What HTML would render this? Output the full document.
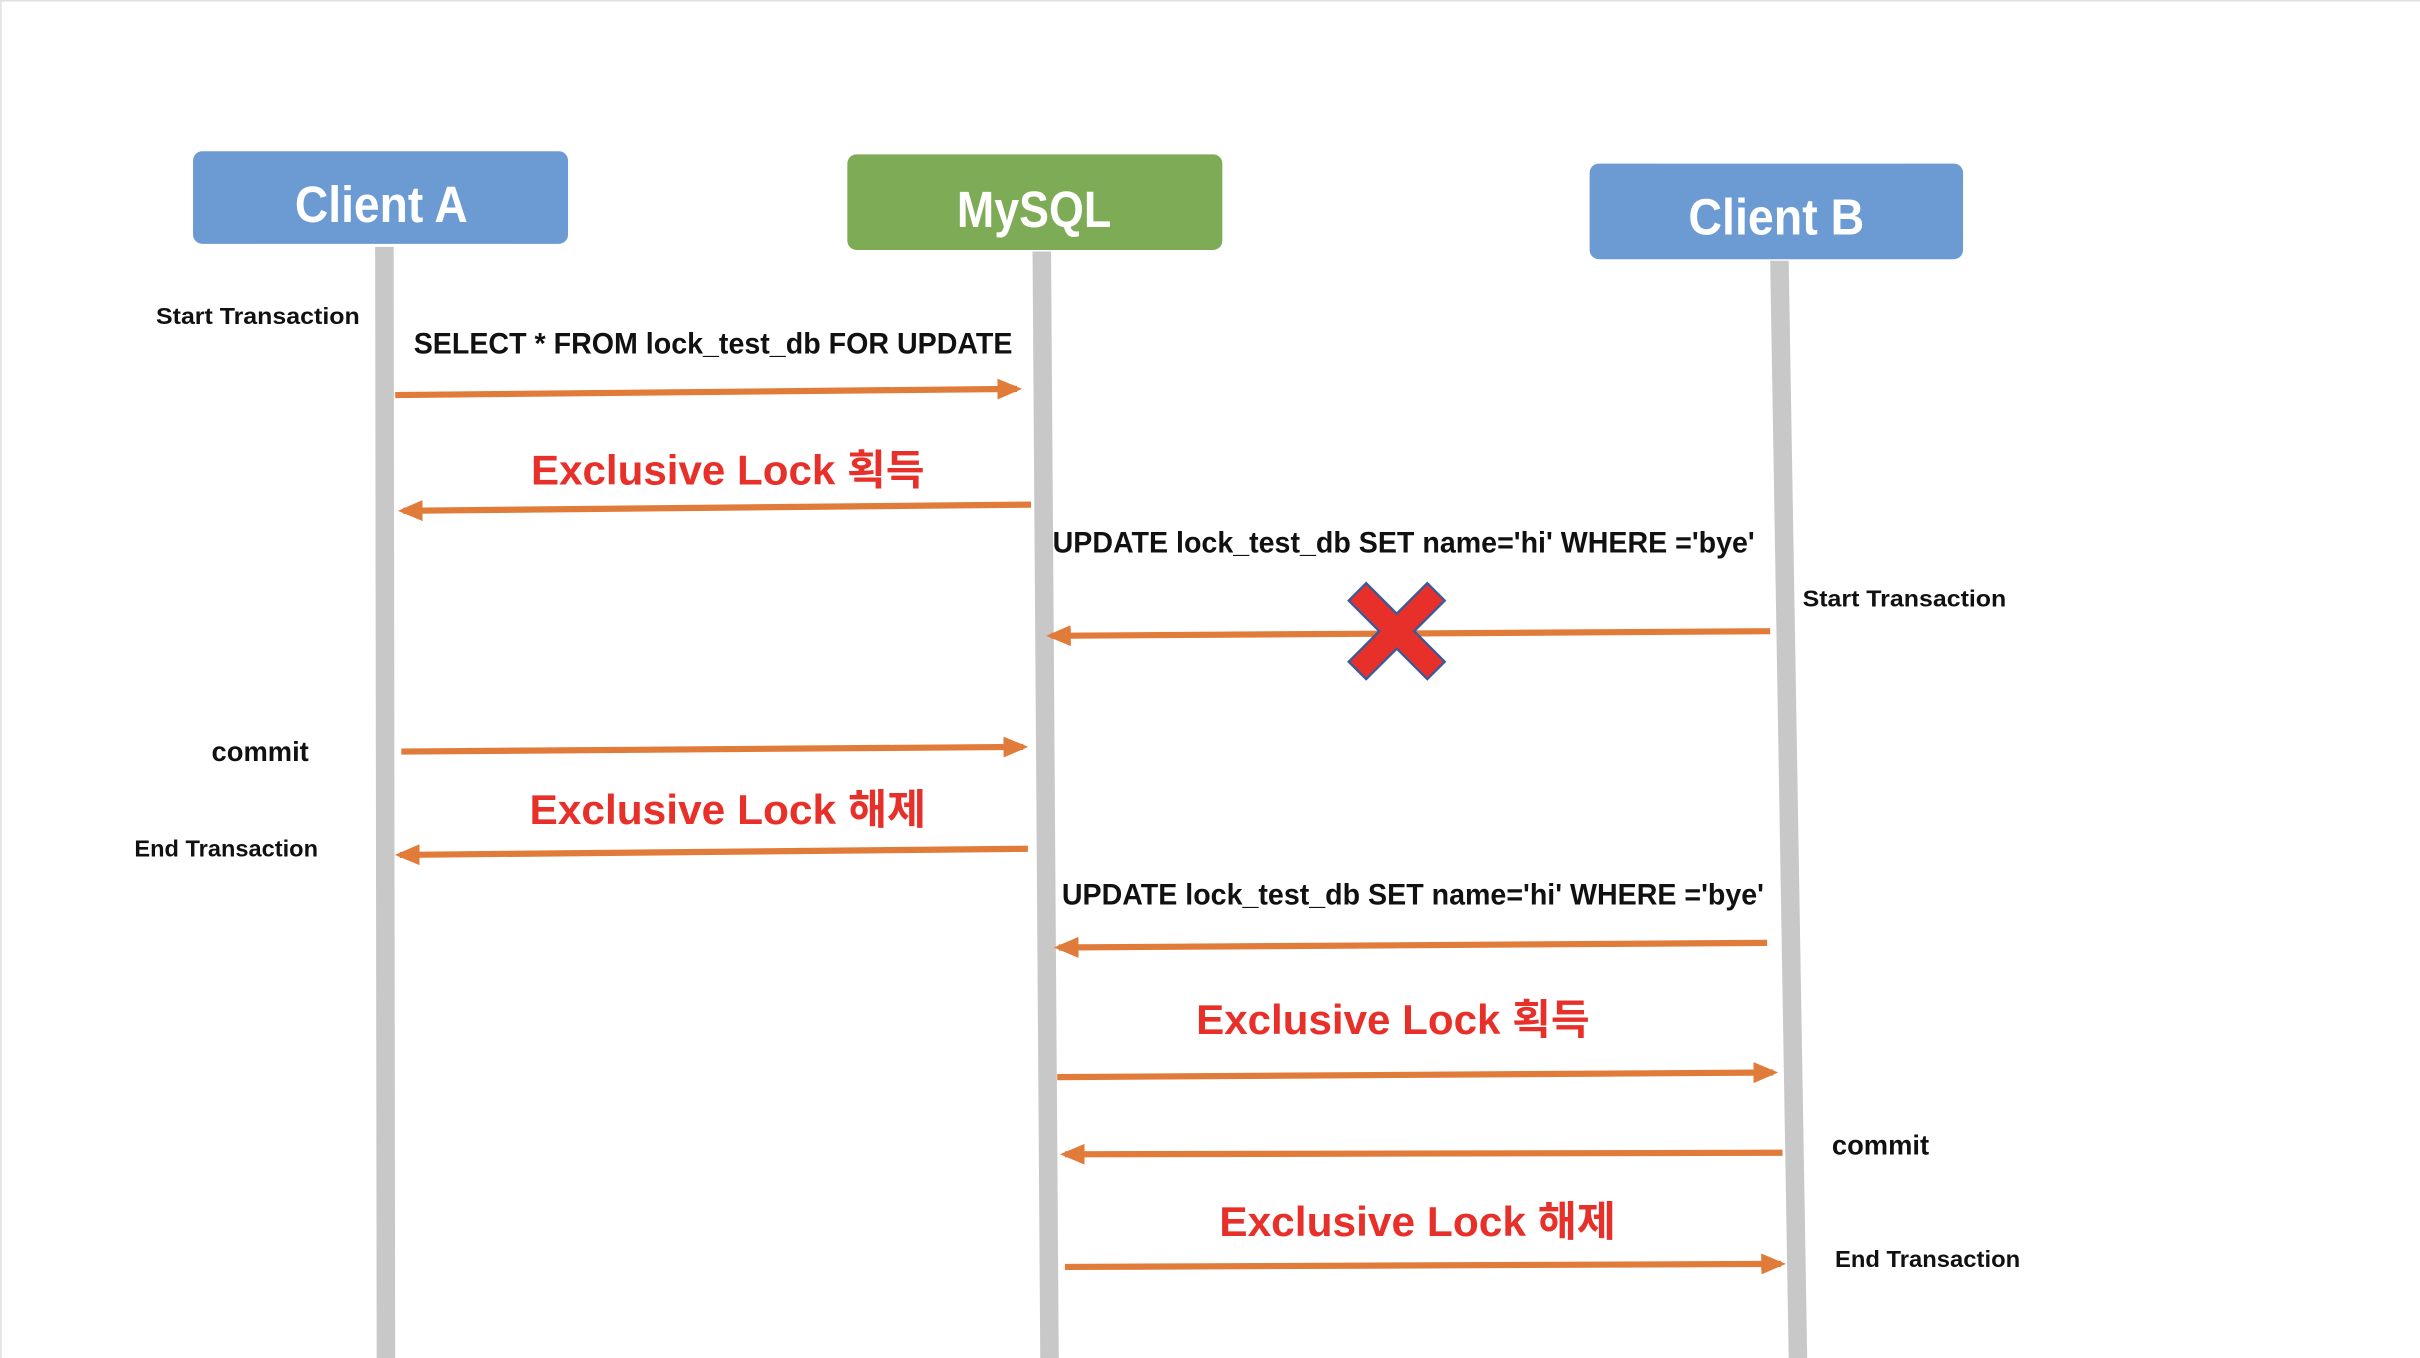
<!DOCTYPE html>
<html><head><meta charset="utf-8"><style>
html,body{margin:0;padding:0;background:#fff;}
svg{display:block;}
text{font-family:"Liberation Sans","Noto Sans CJK KR",sans-serif;font-weight:bold;}
</style></head><body>
<svg width="2420" height="1358" viewBox="0 0 1568 880" xmlns="http://www.w3.org/2000/svg">
<defs>
<marker id="ah" markerWidth="4" markerHeight="4" refX="3.2" refY="2" orient="auto" markerUnits="strokeWidth">
<path d="M0,0.3 L4,2 L0,3.7 Z" fill="#e07b39"/>
</marker>
</defs>
<rect x="0" y="0" width="1568" height="880" fill="#fff"/>
<line x1="0.5" y1="0" x2="0.5" y2="880" stroke="#e0e0e0" stroke-width="1"/>
<line x1="0" y1="0.5" x2="1568" y2="0.5" stroke="#e0e0e0" stroke-width="1"/>
<polygon points="243,160 255,160 256,880 244,880" fill="#c8c8c8"/>
<polygon points="669,163 681,163 686,880 674,880" fill="#c8c8c8"/>
<polygon points="1147,169 1159,169 1171,880 1159,880" fill="#c8c8c8"/>
<rect x="125" y="98" width="243" height="60" rx="6" fill="#6b9bd2"/>
<text x="247" y="144" font-size="33" fill="#fff" text-anchor="middle" textLength="112" lengthAdjust="spacingAndGlyphs">Client A</text>
<rect x="549" y="100" width="243" height="62" rx="6" fill="#7eab55"/>
<text x="670" y="147" font-size="33" fill="#fff" text-anchor="middle" textLength="100" lengthAdjust="spacingAndGlyphs">MySQL</text>
<rect x="1030" y="106" width="242" height="62" rx="6" fill="#6b9bd2"/>
<text x="1151" y="152" font-size="33" fill="#fff" text-anchor="middle" textLength="114" lengthAdjust="spacingAndGlyphs">Client B</text>
<g stroke="#e07b39" stroke-width="4" fill="none" marker-end="url(#ah)">
<line x1="256" y1="256" x2="659" y2="252"/>
<line x1="668" y1="327" x2="261" y2="331"/>
<line x1="1147" y1="409" x2="681" y2="412"/>
<line x1="260" y1="487" x2="663" y2="484"/>
<line x1="666" y1="550" x2="259" y2="554"/>
<line x1="1145" y1="611" x2="686" y2="614"/>
<line x1="685" y1="698" x2="1149" y2="695"/>
<line x1="1155" y1="747" x2="690" y2="748"/>
<line x1="690" y1="821" x2="1154" y2="819"/>
</g>
<g transform="translate(905,409) rotate(45)" fill="#e8302a" stroke="#3a5a9a" stroke-width="1.5">
<path d="M-8,-36 H8 V-8 H36 V8 H8 V36 H-8 V8 H-36 V-8 H-8 Z"/>
</g>
<g fill="#111">
<text x="101" y="210" font-size="15" textLength="132" lengthAdjust="spacingAndGlyphs">Start Transaction</text>
<text x="268" y="229" font-size="19" textLength="388" lengthAdjust="spacingAndGlyphs">SELECT * FROM lock_test_db FOR UPDATE</text>
<text x="682" y="358" font-size="19" textLength="455" lengthAdjust="spacingAndGlyphs">UPDATE lock_test_db SET name='hi' WHERE ='bye'</text>
<text x="1168" y="393" font-size="15" textLength="132" lengthAdjust="spacingAndGlyphs">Start Transaction</text>
<text x="137" y="493" font-size="18" textLength="63" lengthAdjust="spacingAndGlyphs">commit</text>
<text x="87" y="555" font-size="15" textLength="119" lengthAdjust="spacingAndGlyphs">End Transaction</text>
<text x="688" y="586" font-size="19" textLength="455" lengthAdjust="spacingAndGlyphs">UPDATE lock_test_db SET name='hi' WHERE ='bye'</text>
<text x="1187" y="748" font-size="18" textLength="63" lengthAdjust="spacingAndGlyphs">commit</text>
<text x="1189" y="821" font-size="15" textLength="120" lengthAdjust="spacingAndGlyphs">End Transaction</text>
</g>
<g fill="#e8302a">
<text x="344" y="314" font-size="27" textLength="255" lengthAdjust="spacingAndGlyphs">Exclusive Lock 획득</text>
<text x="343" y="534" font-size="27" textLength="257" lengthAdjust="spacingAndGlyphs">Exclusive Lock 해제</text>
<text x="775" y="670" font-size="27" textLength="255" lengthAdjust="spacingAndGlyphs">Exclusive Lock 획득</text>
<text x="790" y="801" font-size="27" textLength="257" lengthAdjust="spacingAndGlyphs">Exclusive Lock 해제</text>
</g>
</svg>
</body></html>
